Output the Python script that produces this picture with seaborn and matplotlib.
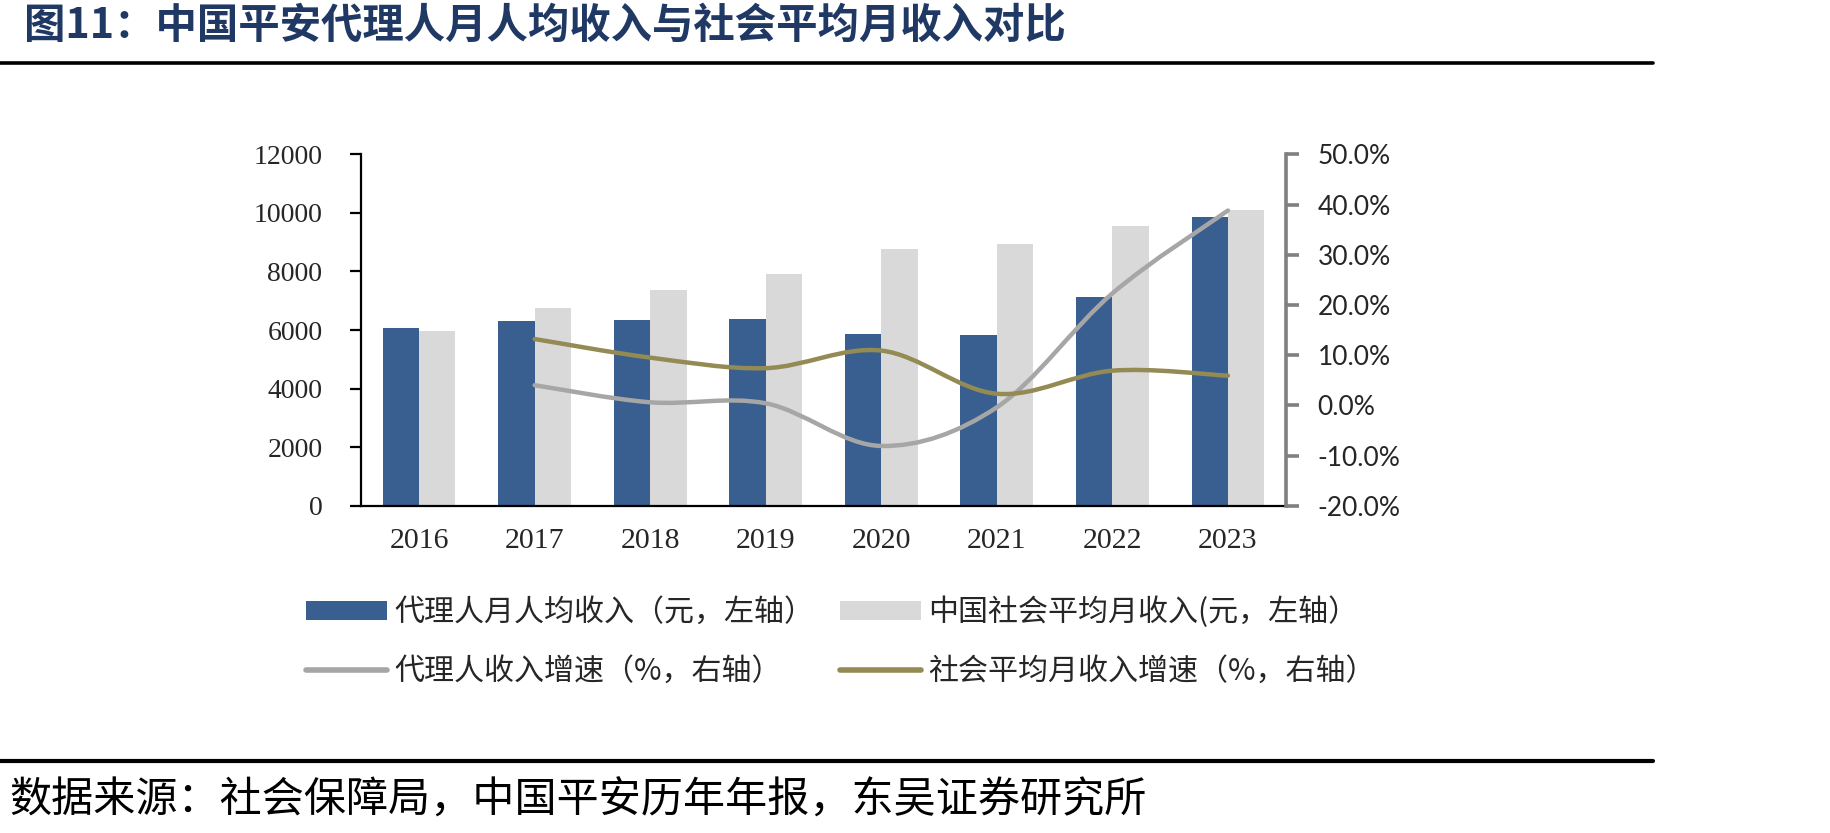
import pandas as pd
import seaborn as sns
import matplotlib.pyplot as plt
from matplotlib.path import Path
from matplotlib.patches import PathPatch, Patch
from matplotlib.lines import Line2D
from matplotlib.ticker import FuncFormatter

# data
years = ["2016", "2017", "2018", "2019", "2020", "2021", "2022", "2023"]
agent_income = [6078, 6318, 6352, 6386, 5874, 5840, 7137, 9869]
social_income = [5966, 6751, 7366, 7923, 8776, 8937, 9552, 10098]
agent_growth = [4.0, 0.6, 0.4, -8.1, -0.4, 22.3, 38.8]       # %, from 2017
social_growth = [13.2, 9.5, 7.4, 10.9, 2.3, 6.9, 5.9]        # %, from 2017

bar_names = ["代理人月人均收入（元，左轴）", "中国社会平均月收入(元，左轴）"]
line_names = ["代理人收入增速（%，右轴）", "社会平均月收入增速（%，右轴）"]

blue = "#385F8F"
light = "#D9D9D9"
gray_line = "#A6A6A6"
olive = "#948A54"

sns.set_style("white")
plt.rcParams['font.family'] = ['Noto Sans CJK SC', 'DejaVu Sans']

df = pd.DataFrame({
    "year": years * 2,
    "series": [bar_names[0]] * len(years) + [bar_names[1]] * len(years),
    "value": agent_income + social_income,
})

fig = plt.figure(figsize=(18.3, 8.33), dpi=100)
ax = fig.add_axes([361.3 / 1830, 327.3 / 833, 924.4 / 1830, 351.4 / 833])

sns.barplot(data=df, x="year", y="value", hue="series", palette=[blue, light],
            width=0.63, ax=ax, legend=False, edgecolor="none", saturation=1)

ax.set_xlim(-0.5, len(years) - 0.5)
ax.set_ylim(0, 12000)
ax.set_yticks(range(0, 12001, 2000))
ax.set_xlabel("")
ax.set_ylabel("")
for s in ["top", "right"]:
    ax.spines[s].set_visible(False)
ax.spines["left"].set_color("black")
ax.spines["left"].set_linewidth(1.6)
ax.spines["bottom"].set_color("black")
ax.spines["bottom"].set_linewidth(1.6)

# category boundary ticks on x axis, labels at centres
ax.set_xticks([i + 0.5 for i in range(-1, len(years))])
ax.set_xticklabels([])
ax.set_xticks(range(len(years)), minor=True)
ax.set_xticklabels(years, minor=True, family="Liberation Serif", fontsize=21.5)
ax.tick_params(axis="x", which="major", direction="out", length=8, width=1.6, color="black")
ax.tick_params(axis="x", which="minor", length=0, pad=16)
ax.tick_params(axis="y", direction="out", length=8, width=1.6, color="black", pad=20)
for t in ax.get_yticklabels():
    t.set_family("Liberation Serif")
    t.set_fontsize(20)

# right axis
ax2 = ax.twinx()
ax2.set_ylim(-20, 50)
ax2.set_yticks(range(-20, 51, 10))
ax2.yaxis.set_major_formatter(FuncFormatter(lambda v, p: f"{v:.1f}%"))
for s in ["top", "left", "bottom"]:
    ax2.spines[s].set_visible(False)
ax2.spines["right"].set_color("#808080")
ax2.spines["right"].set_linewidth(2.6)
ax2.tick_params(axis="y", direction="out", length=9, width=2.6, color="#808080", pad=14)
for t in ax2.get_yticklabels():
    t.set_family("Lato")
    t.set_fontsize(19)


def smooth_path(xs, ys):
    # Catmull-Rom style smoothing, like the spreadsheet "smoothed line"
    pts = list(zip(xs, ys))
    verts = [pts[0]]
    codes = [Path.MOVETO]
    n = len(pts)
    for i in range(n - 1):
        p0 = pts[i - 1] if i > 0 else pts[i]
        p1 = pts[i]
        p2 = pts[i + 1]
        p3 = pts[i + 2] if i + 2 < n else pts[i + 1]
        c1 = (p1[0] + (p2[0] - p0[0]) / 6, p1[1] + (p2[1] - p0[1]) / 6)
        c2 = (p2[0] - (p3[0] - p1[0]) / 6, p2[1] - (p3[1] - p1[1]) / 6)
        verts += [c1, c2, p2]
        codes += [Path.CURVE4] * 3
    return Path(verts, codes)


line_x = list(range(1, len(years)))
for vals, col, z in [(agent_growth, gray_line, 3), (social_growth, olive, 4)]:
    patch = PathPatch(smooth_path(line_x, vals), facecolor="none", edgecolor=col,
                      lw=3.2, capstyle="round", zorder=z)
    ax2.add_patch(patch)

# legend: row 1 the bars, row 2 the lines (matplotlib fills column by column)
handles = [
    Patch(facecolor=blue, edgecolor="none", label=bar_names[0]),
    Line2D([], [], color=gray_line, lw=4, label=line_names[0]),
    Patch(facecolor=light, edgecolor="none", label=bar_names[1]),
    Line2D([], [], color=olive, lw=4, label=line_names[1]),
]
fig.legend(handles=handles, ncol=2, loc="upper left",
           bbox_to_anchor=(306 / 1830, 1 - 596 / 833), frameon=False,
           fontsize=21.6, handlelength=2.7, handleheight=0.6, handletextpad=0.25,
           columnspacing=0.85, labelspacing=0.95, borderpad=0, borderaxespad=0)

# title, rules and source
fig.text(24 / 1830, 1 - 26 / 833, "图11：中国平安代理人月人均收入与社会平均月收入对比",
         fontsize=29.8, fontweight="bold", color="#1F3864", va="center", ha="left")
fig.add_artist(Line2D([0, 1653 / 1830], [1 - 63 / 833] * 2, color="black", lw=2.6))
fig.add_artist(Line2D([0, 1653 / 1830], [1 - 761 / 833] * 2, color="black", lw=3))
fig.text(9 / 1830, 1 - 801 / 833, "数据来源：社会保障局，中国平安历年年报，东吴证券研究所",
         fontsize=30.3, color="black", va="center", ha="left")

fig.savefig("out.png", dpi=100)
